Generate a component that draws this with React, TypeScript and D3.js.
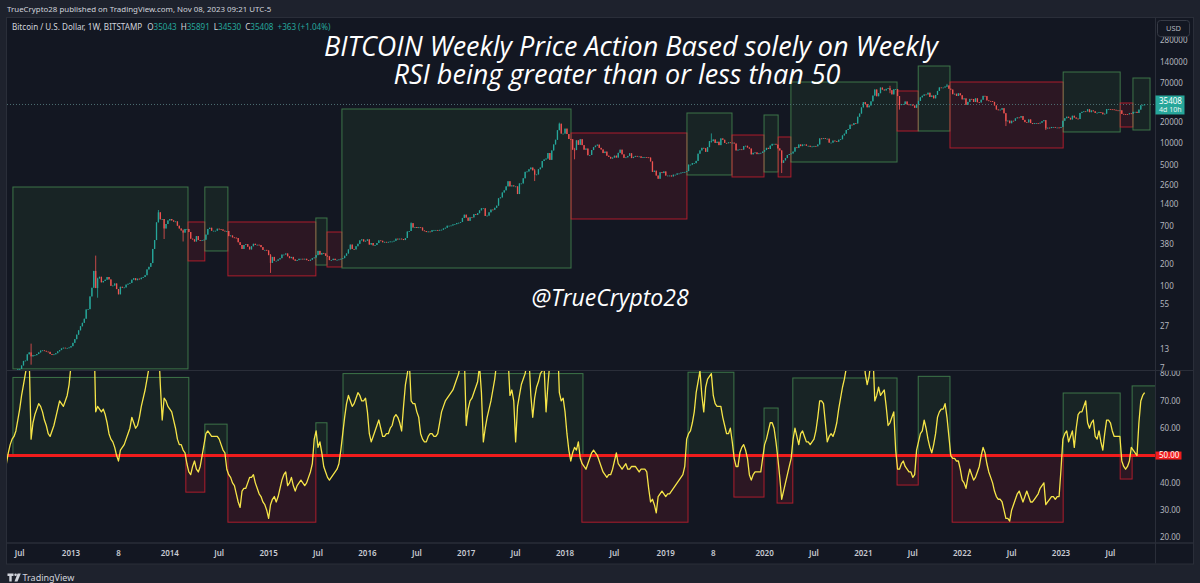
import * as d3 from 'd3';

// Weekly BTC/USD closes (Bitstamp), one value per Monday-start week, starting 2012-05-07
const FIRST_WEEK = '2012-05-07';
const FIRST_OPEN = 4.9;

const close2012 = [5.0, 5.1, 5.1, 5.2, 5.5, 5.9, 6.4, 6.7, 6.8, 7.6, 8.8, 8.9, 10.9, 11.6, 10.2, 10.6, 10.6, 11.0, 11.6, 12.3, 12.4, 12.2, 11.9, 11.8, 11.0, 10.7, 10.9, 11.3, 12.0, 12.5, 13.2, 13.5, 13.4, 13.4, 13.6];
const close2013 = [14.2, 15.8, 17.8, 20.6, 23.7, 27.0, 30.2, 34.5, 46.5, 47.0, 71.0, 94.0, 162, 93, 127, 134, 112, 117, 122, 133, 123, 100, 101, 108, 90, 76, 97, 94, 95, 104, 107, 110, 122, 128, 120, 126, 124, 130, 133, 141, 170, 185, 209, 330, 440, 780, 1080, 860, 870, 640, 740, 830];
const close2014 = [870, 830, 800, 805, 700, 640, 600, 560, 630, 630, 570, 460, 450, 420, 500, 440, 435, 440, 445, 525, 630, 655, 595, 595, 595, 635, 625, 620, 595, 585, 590, 500, 510, 480, 475, 470, 410, 375, 330, 375, 385, 355, 325, 360, 390, 375, 378, 375, 350, 320, 320, 315];
const close2015 = [270, 210, 255, 225, 225, 235, 245, 275, 275, 285, 260, 245, 255, 235, 225, 230, 240, 240, 237, 240, 230, 225, 233, 245, 250, 270, 310, 275, 290, 285, 265, 260, 230, 230, 240, 230, 232, 235, 240, 245, 265, 285, 325, 380, 330, 325, 360, 390, 435, 450, 420, 430];
const close2016 = [450, 380, 400, 370, 375, 400, 435, 430, 410, 415, 410, 415, 420, 420, 430, 460, 450, 460, 455, 440, 470, 580, 590, 760, 660, 670, 650, 665, 660, 600, 590, 570, 580, 575, 605, 610, 610, 600, 612, 615, 640, 655, 700, 700, 705, 730, 735, 765, 770, 790, 900, 1000];
const close2017 = [910, 820, 920, 915, 1015, 990, 1050, 1150, 1230, 1230, 960, 970, 1080, 1180, 1170, 1250, 1340, 1700, 1750, 2050, 2200, 2500, 2950, 2500, 2580, 2500, 2500, 1950, 2750, 2750, 3250, 4000, 4050, 4350, 4600, 4200, 3650, 3680, 4350, 4600, 5680, 5970, 6150, 7350, 5900, 8000, 9700, 11300, 15400, 19000, 13800, 13800];
const close2018 = [16200, 13600, 11600, 11500, 8200, 8100, 11100, 9600, 11500, 9500, 8200, 8500, 6850, 6900, 8100, 8900, 9350, 9650, 8700, 8250, 7350, 7700, 6750, 6500, 6150, 6350, 6750, 6350, 7400, 8200, 7050, 6300, 6400, 6700, 7300, 6250, 6500, 6700, 6600, 6600, 6300, 6450, 6450, 6400, 6350, 5600, 4000, 4150, 3550, 3200, 3950, 3850, 4050];
const close2019 = [3550, 3550, 3550, 3450, 3650, 3650, 3800, 3800, 3900, 3950, 3990, 4100, 5050, 5050, 5300, 5300, 5700, 7200, 8000, 8700, 8600, 7650, 8900, 10800, 10800, 11400, 10200, 10600, 9500, 11800, 11300, 10200, 10100, 10400, 10300, 10300, 10000, 8000, 8200, 8300, 8200, 9200, 9300, 8800, 8500, 7050, 7400, 7500, 7100, 7300, 7400, 7700];
const close2020 = [8100, 8700, 8400, 9350, 9900, 9900, 9650, 8550, 8000, 5350, 5800, 6250, 6900, 7100, 7250, 7700, 8850, 8700, 9700, 9200, 9700, 9700, 9300, 9300, 9000, 9100, 9250, 9150, 9700, 11800, 11600, 11900, 11650, 11700, 10300, 10300, 11000, 10800, 10600, 11300, 11500, 13000, 13750, 15500, 16000, 18400, 18200, 19350, 19150, 23800, 26400, 32200];
const close2021 = [38200, 36000, 32300, 34300, 39200, 47200, 57500, 46200, 51000, 61200, 57400, 55800, 58700, 60000, 56200, 49100, 57800, 58200, 46500, 34700, 35700, 35800, 39000, 35500, 34700, 35300, 34200, 31800, 35400, 39800, 44600, 47000, 49000, 48900, 51800, 45200, 47300, 43200, 48200, 54900, 61500, 61300, 61300, 63300, 65500, 59000, 57300, 49400, 50100, 46700, 50800, 47700];
const close2022 = [41800, 43100, 35000, 38500, 42400, 42200, 38400, 43200, 38100, 37800, 41300, 46800, 46400, 40400, 39700, 39500, 38500, 34300, 30100, 29500, 29900, 31400, 26600, 20600, 21000, 19300, 20900, 20800, 22600, 23300, 23200, 24300, 21500, 20000, 19800, 21800, 19400, 18800, 19300, 19400, 19200, 19600, 20600, 21300, 16300, 16700, 16500, 17100, 17100, 16800, 16800, 16600];
const close2023 = [17100, 20900, 22700, 23800, 23000, 21800, 24600, 23200, 22400, 22100, 26900, 27900, 28400, 28300, 30300, 27600, 29200, 28400, 26900, 27100, 27700, 27200, 25800, 26300, 30500, 30600, 30300, 30200, 29800, 29300, 29100, 29300, 26100, 26000, 25900, 25800, 26600, 26300, 27900, 27900, 26900, 30000, 34500, 35043, 35408];

// Weekly RSI(14), same weeks
const rsi2012 = [43, 47, 51, 54, 56, 57, 59, 63, 67, 72, 76, 80, 84, 86, 56, 62, 65, 67, 69, 68, 66, 63, 61, 58, 57, 59, 61, 64, 67, 70, 69, 68, 70, 72, 76];
const rsi2013 = [83, 85, 87, 89, 90, 91, 92, 93, 94, 93, 95, 96, 97, 66, 68, 67, 66, 67, 65, 62, 58, 56, 55, 53, 50, 48, 52, 53, 54, 56, 58, 60, 64, 62, 60, 61, 64, 68, 71, 74, 78, 82, 87, 91, 93, 95, 92, 76, 63, 71, 70, 68];
const rsi2014 = [67, 66, 63, 60, 56, 54, 54, 52, 51, 47, 44, 43, 46, 48, 45, 44, 46, 50, 54, 58, 59, 58, 57, 57, 57, 57, 56, 54, 52, 51, 45, 43, 42, 40, 39, 36, 33, 31, 37, 38, 38, 40, 42, 42, 43, 40, 38, 36, 35, 33, 32, 30];
const rsi2015 = [27, 32, 34, 35, 33, 35, 38, 41, 43, 44, 39, 40, 42, 39, 37, 39, 40, 41, 40, 39, 40, 42, 44, 47, 56, 59, 53, 55, 51, 46, 44, 42, 41, 42, 43, 44, 45, 47, 52, 58, 64, 69, 72, 70, 68, 69, 71, 73, 72, 70, 70, 71];
const rsi2016 = [66, 58, 55, 57, 59, 61, 63, 60, 57, 57, 58, 58, 60, 61, 64, 65, 64, 62, 59, 68, 76, 80, 85, 70, 69, 69, 66, 64, 58, 56, 55, 55, 57, 58, 58, 57, 57, 58, 62, 66, 68, 70, 71, 72, 73, 74, 76, 78, 80, 84, 87, 86];
const rsi2017 = [61, 67, 70, 71, 73, 75, 77, 83, 73, 55, 60, 64, 67, 70, 74, 78, 84, 87, 89, 90, 90, 88, 86, 72, 74, 70, 55, 68, 72, 76, 78, 80, 84, 86, 72, 64, 71, 75, 77, 80, 81, 82, 66, 76, 84, 87, 90, 92, 93, 73, 70, 71];
const rsi2018 = [66, 58, 52, 48, 51, 53, 52, 55, 49, 47, 46, 45, 47, 49, 51, 52, 51, 50, 48, 46, 44, 43, 42, 43, 43, 45, 48, 51, 47, 46, 45, 46, 47, 45, 45, 46, 46, 46, 45, 44, 45, 45, 45, 44, 38, 33, 34, 32, 29, 35, 36, 37, 36];
const rsi2019 = [35, 36, 36, 37, 38, 39, 40, 41, 42, 43, 46, 56, 58, 59, 62, 66, 73, 77, 81, 72, 66, 75, 78, 79, 80, 72, 69, 68, 68, 68, 64, 61, 58, 58, 60, 55, 49, 46, 46, 51, 53, 54, 52, 49, 43, 41, 43, 44, 44, 44, 44, 49];
const rsi2020 = [54, 56, 59, 62, 62, 60, 55, 49, 42, 34, 37, 40, 43, 46, 49, 56, 60, 57, 54, 58, 59, 57, 55, 55, 54, 55, 56, 59, 64, 70, 70, 69, 62, 55, 57, 58, 57, 59, 62, 67, 71, 75, 78, 82, 85, 87, 88, 89, 88, 90, 92, 94];
const rsi2021 = [90, 80, 76, 79, 85, 88, 70, 72, 75, 72, 73, 74, 68, 61, 62, 64, 66, 52, 45, 45, 47, 48, 46, 45, 44, 44, 42, 43, 52, 55, 58, 59, 63, 60, 56, 53, 51, 54, 58, 64, 66, 67, 67, 69, 64, 57, 50, 49, 49, 48, 48, 45];
const rsi2022 = [41, 40, 38, 42, 45, 43, 41, 42, 44, 46, 50, 53, 51, 47, 44, 42, 40, 37, 35, 34, 34, 33, 30, 27, 27, 26, 30, 32, 34, 36, 37, 35, 33, 35, 37, 35, 33, 33, 34, 35, 36, 38, 39, 40, 32, 33, 34, 35, 35, 34, 35, 35];
const rsi2023 = [45, 56, 58, 59, 55, 57, 59, 53, 60, 65, 66, 66, 68, 70, 62, 60, 62, 63, 57, 56, 59, 55, 52, 58, 63, 63, 62, 59, 57, 57, 57, 57, 48, 46, 45, 46, 48, 53, 52, 51, 50, 62, 70, 72, 73];

// Long wicks worth showing: [week, high, low]
const WICKS: [string, number, number][] = [
  ['2012-08-13', 15.4, 7.8],
  ['2013-04-08', 266, 105],
  ['2013-04-15', 130, 68],
  ['2013-11-25', 1163, 900],
  ['2013-12-16', 760, 455],
  ['2014-02-24', 620, 420],
  ['2015-01-12', 280, 152],
  ['2016-06-13', 780, 610],
  ['2017-09-11', 4400, 2970],
  ['2017-12-11', 19666, 16300],
  ['2018-02-05', 8700, 6000],
  ['2019-06-24', 13880, 10300],
  ['2020-03-09', 8000, 3850],
  ['2021-04-12', 64900, 51000],
  ['2021-05-17', 42400, 30000],
  ['2021-11-08', 69000, 62500],
  ['2022-06-13', 26900, 17600],
  ['2022-11-07', 21400, 15500],
  ['2023-11-06', 35891, 34530],
];

// Hand-drawn regime boxes on the price pane (price range in USD)
const PRICE_BOXES = [
  { from: '2012-06-07', to: '2014-03-14', low: 6.8, high: 2450, bull: true },
  { from: '2014-03-14', to: '2014-05-15', low: 224, high: 790, bull: false },
  { from: '2014-05-15', to: '2014-08-08', low: 309, high: 2450, bull: true },
  { from: '2014-08-08', to: '2015-06-28', low: 138, high: 790, bull: false },
  { from: '2015-06-28', to: '2015-08-08', low: 196, high: 899, bull: true },
  { from: '2015-08-08', to: '2015-10-02', low: 184, high: 571, bull: false },
  { from: '2015-10-02', to: '2018-01-23', low: 178, high: 30600, bull: true },
  { from: '2018-01-23', to: '2019-03-26', low: 870, high: 14070, bull: false },
  { from: '2019-03-26', to: '2019-09-08', low: 3615, high: 26870, bull: true },
  { from: '2019-09-08', to: '2020-01-04', low: 3390, high: 13180, bull: false },
  { from: '2020-01-04', to: '2020-02-25', low: 3985, high: 25200, bull: true },
  { from: '2020-02-25', to: '2020-04-12', low: 3390, high: 12370, bull: false },
  { from: '2020-04-12', to: '2021-05-08', low: 5500, high: 73300, bull: true },
  { from: '2021-05-08', to: '2021-07-25', low: 15000, high: 54800, bull: false },
  { from: '2021-07-25', to: '2021-11-19', low: 15000, high: 123000, bull: true },
  { from: '2021-11-19', to: '2023-01-10', low: 8660, high: 73300, bull: false },
  { from: '2023-01-10', to: '2023-08-08', low: 14540, high: 101300, bull: true },
  { from: '2023-08-08', to: '2023-09-24', low: 17080, high: 37150, bull: false },
  { from: '2023-09-24', to: '2023-11-26', low: 15500, high: 83400, bull: true },
];

// Same idea on the RSI pane: each box spans from 50 to `level`
const RSI_BOXES = [
  { from: '2012-06-07', to: '2014-03-17', level: 78.6, bull: true },
  { from: '2014-03-06', to: '2014-05-15', level: 36.6, bull: false },
  { from: '2014-05-15', to: '2014-08-05', level: 61.5, bull: true },
  { from: '2014-08-08', to: '2015-06-28', level: 25.6, bull: false },
  { from: '2015-06-28', to: '2015-08-08', level: 62, bull: true },
  { from: '2015-10-06', to: '2018-03-08', level: 80, bull: true },
  { from: '2018-03-04', to: '2019-03-30', level: 25.6, bull: false },
  { from: '2019-03-30', to: '2019-09-15', level: 80.5, bull: true },
  { from: '2019-09-15', to: '2020-01-04', level: 34.8, bull: false },
  { from: '2020-01-04', to: '2020-02-25', level: 67.4, bull: true },
  { from: '2020-02-21', to: '2020-04-19', level: 32.6, bull: false },
  { from: '2020-04-19', to: '2021-05-08', level: 78.4, bull: true },
  { from: '2021-05-08', to: '2021-07-25', level: 39.2, bull: false },
  { from: '2021-07-25', to: '2021-11-19', level: 79, bull: true },
  { from: '2021-11-27', to: '2023-01-10', level: 25.6, bull: false },
  { from: '2023-01-10', to: '2023-08-08', level: 72.9, bull: true },
  { from: '2023-08-08', to: '2023-09-21', level: 41.4, bull: false },
  { from: '2023-09-21', to: '2023-12-19', level: 75.5, bull: true },
];

const PRICE_TICKS = [280000, 140000, 70000, 20000, 10000, 5000, 2600, 1400, 700, 380, 200, 100, 55, 27, 13, 7];
const RSI_TICKS = [80, 70, 60, 40, 30, 20];
const TIME_TICKS: [string, string][] = [
  ['2012-07-01', 'Jul'], ['2013-01-01', '2013'], ['2013-07-01', '8'], ['2014-01-01', '2014'],
  ['2014-07-01', 'Jul'], ['2015-01-01', '2015'], ['2015-07-01', 'Jul'], ['2016-01-01', '2016'],
  ['2016-07-01', 'Jul'], ['2017-01-01', '2017'], ['2017-07-01', 'Jul'], ['2018-01-01', '2018'],
  ['2018-07-01', 'Jul'], ['2019-01-01', '2019'], ['2019-07-01', '8'], ['2020-01-01', '2020'],
  ['2020-07-01', 'Jul'], ['2021-01-01', '2021'], ['2021-07-01', 'Jul'], ['2022-01-01', '2022'],
  ['2022-07-01', 'Jul'], ['2023-01-01', '2023'], ['2023-07-01', 'Jul'],
];

const LAST = { open: 35043, high: 35891, low: 34530, close: 35408, change: 363, pct: 1.04 };

const closes = [...close2012, ...close2013, ...close2014, ...close2015, ...close2016, ...close2017, ...close2018, ...close2019, ...close2020, ...close2021, ...close2022, ...close2023];
const rsi = [...rsi2012, ...rsi2013, ...rsi2014, ...rsi2015, ...rsi2016, ...rsi2017, ...rsi2018, ...rsi2019, ...rsi2020, ...rsi2021, ...rsi2022, ...rsi2023];

const WEEK_MS = 7 * 864e5;
const parse = d3.utcParse('%Y-%m-%d');
const t0 = +parse(FIRST_WEEK)!;
const barOf = (s: string) => (+parse(s)! - t0) / WEEK_MS;

const BG_OUT = '#1e222d';
const BG = '#131722';
const LINE = '#2a2e39';
const TXT = '#b2b5be';
const UP = '#26a69a';
const DOWN = '#ef5350';
const FONT = "'Noto Sans', 'Liberation Sans', sans-serif";

const L = 7, R = 1193, TOP = 18, BOTTOM = 563.5;
const AXIS_X = 1155.5, SPLIT = 370.5, TIME_Y = 543;

export default function App() {
  const x = d3.scaleLinear().domain([barOf('2013-01-07'), barOf('2023-01-02')]).range([71, 1061]);
  const yP = d3.scaleLog().domain([7, 140000]).range([368, 62]);
  const yR = d3.scaleLinear().domain([20, 80]).range([537.5, 373.6]);

  const wickAt = new Map(WICKS.map(([d, h, l]) => [Math.round(barOf(d)), { h, l }]));
  const candles = closes.map((c, i) => {
    const o = i === 0 ? FIRST_OPEN : closes[i - 1];
    const w = wickAt.get(i);
    return {
      i, o, c,
      h: Math.max(o, c, w ? w.h : 0),
      l: Math.min(o, c, w ? w.l : Infinity),
    };
  });

  const rsiLine = d3.line<number>().x((_, i) => x(i)).y((v) => yR(v))(rsi) ?? '';
  const lastY = yP(LAST.close);

  return (
    <svg width={1200} height={583} style={{ position: 'absolute', left: 0, top: 0, display: 'block' }} fontFamily={FONT}>
      <defs>
        <clipPath id="pricePane"><rect x={L} y={TOP} width={AXIS_X - L} height={SPLIT - TOP} /></clipPath>
        <clipPath id="rsiPane"><rect x={L} y={SPLIT + 0.5} width={AXIS_X - L} height={TIME_Y - SPLIT - 1} /></clipPath>
        <clipPath id="priceScale"><rect x={AXIS_X} y={TOP} width={R - AXIS_X} height={SPLIT - TOP} /></clipPath>
        <clipPath id="rsiScale"><rect x={AXIS_X} y={SPLIT + 0.5} width={R - AXIS_X} height={TIME_Y - SPLIT - 1} /></clipPath>
      </defs>

      <rect width={1200} height={583} fill={BG_OUT} />
      <rect x={L - 0.5} y={TOP - 0.5} width={R - L + 1} height={BOTTOM - TOP + 1} fill={BG} stroke={LINE} />

      {/* price pane */}
      <g clipPath="url(#pricePane)">
        {PRICE_BOXES.map((b, k) => {
          const x0 = x(barOf(b.from)), x1 = x(barOf(b.to));
          return (
            <rect key={k} x={x0} y={yP(b.high)} width={x1 - x0} height={yP(b.low) - yP(b.high)}
              fill={b.bull ? 'rgba(76,175,80,0.09)' : 'rgba(200,25,45,0.14)'}
              stroke={b.bull ? 'rgba(86,170,96,0.62)' : 'rgba(226,32,48,0.72)'} strokeWidth={1} />
          );
        })}
        <line x1={L} x2={AXIS_X} y1={lastY} y2={lastY} stroke="#4e6f72" strokeDasharray="1 2" />
        {candles.map((d) => {
          const col = d.c >= d.o ? UP : DOWN;
          const cx = x(d.i);
          const top = yP(Math.max(d.o, d.c));
          const bot = yP(Math.min(d.o, d.c));
          return (
            <g key={d.i}>
              <line x1={cx} x2={cx} y1={yP(d.h)} y2={yP(d.l)} stroke={col} strokeWidth={0.8} />
              <rect x={cx - 0.65} y={top} width={1.3} height={Math.max(0.8, bot - top)} fill={col} />
            </g>
          );
        })}
      </g>

      {/* RSI pane */}
      <g clipPath="url(#rsiPane)">
        {RSI_BOXES.map((b, k) => {
          const x0 = x(barOf(b.from)), x1 = x(barOf(b.to));
          const y0 = yR(Math.max(50, b.level)), y1 = yR(Math.min(50, b.level));
          return (
            <rect key={k} x={x0} y={y0} width={x1 - x0} height={y1 - y0}
              fill={b.bull ? 'rgba(76,175,80,0.09)' : 'rgba(200,25,45,0.14)'}
              stroke={b.bull ? 'rgba(86,170,96,0.62)' : 'rgba(226,32,48,0.72)'} strokeWidth={1} />
          );
        })}
        <line x1={L} x2={AXIS_X} y1={yR(50)} y2={yR(50)} stroke="#f01c1c" strokeWidth={3} />
        <path d={rsiLine} fill="none" stroke="#f6e548" strokeWidth={1.3} strokeLinejoin="round" />
      </g>

      {/* pane borders */}
      <line x1={L} x2={R} y1={SPLIT} y2={SPLIT} stroke={LINE} />
      <line x1={L} x2={R} y1={TIME_Y} y2={TIME_Y} stroke={LINE} strokeWidth={1.5} />
      <line x1={AXIS_X} x2={AXIS_X} y1={TOP} y2={BOTTOM} stroke={LINE} />

      {/* right scales, each clipped to its own pane */}
      <g clipPath="url(#priceScale)">
        {PRICE_TICKS.map((v) => (
          <text key={v} x={1160} y={yP(v)} dy="0.35em" fontSize={8} fill={TXT}>{v}</text>
        ))}
      </g>
      <g clipPath="url(#rsiScale)">
        {RSI_TICKS.map((v) => (
          <text key={v} x={1160} y={yR(v)} dy="0.35em" fontSize={8} fill={TXT}>{v.toFixed(2)}</text>
        ))}
      </g>
      <rect x={1157.5} y={20.5} width={32} height={16} rx={3} fill={BG} stroke="#363a45" />
      <text x={1173.5} y={28.5} dy="0.35em" textAnchor="middle" fontSize={7.5} fill={TXT}>USD</text>

      <rect x={AXIS_X} y={lastY - 9} width={29} height={19} fill={UP} />
      <text x={AXIS_X + 3.5} y={lastY - 0.5} fontSize={8} fill="#ffffff">{LAST.close}</text>
      <text x={AXIS_X + 3.5} y={lastY + 8} fontSize={7} fill="#e6f5f3">4d 10h</text>

      <rect x={AXIS_X} y={yR(50) - 4} width={26} height={8} fill="#f01c1c" />
      <text x={AXIS_X + 3.5} y={yR(50)} dy="0.35em" fontSize={8} fill="#ffffff">{(50).toFixed(2)}</text>

      {/* time axis */}
      {TIME_TICKS.map(([d, label]) => (
        <text key={d} x={x(Math.ceil(barOf(d)))} y={553} dy="0.35em" textAnchor="middle" fontSize={8} fontWeight={600} fill="#c8cbd3">{label}</text>
      ))}

      {/* header */}
      <text x={7} y={12} fontSize={7.9} fill="#d1d4dc">TrueCrypto28 published on TradingView.com, Nov 08, 2023 09:21 UTC-5</text>
      <text x={12} y={29.5} fontSize={8.1} fill="#d1d4dc">
        <tspan>Bitcoin / U.S. Dollar, 1W, BITSTAMP</tspan>
        <tspan dx={5}>O</tspan><tspan fill={UP}>{LAST.open}</tspan>
        <tspan dx={4}>H</tspan><tspan fill={UP}>{LAST.high}</tspan>
        <tspan dx={4}>L</tspan><tspan fill={UP}>{LAST.low}</tspan>
        <tspan dx={4}>C</tspan><tspan fill={UP}>{LAST.close}</tspan>
        <tspan dx={4} fill={UP}>{`+${LAST.change} (+${LAST.pct.toFixed(2)}%)`}</tspan>
      </text>

      {/* annotations */}
      <g fontFamily="'Open Sans', 'Noto Sans', sans-serif" fontStyle="italic" fill="#ffffff">
        <text x={631} y={56} textAnchor="middle" fontSize={27}>BITCOIN Weekly Price Action Based solely on Weekly</text>
        <text x={617} y={84} textAnchor="middle" fontSize={27}>RSI being greater than or less than 50</text>
        <text x={610} y={306} textAnchor="middle" fontSize={23}>@TrueCrypto28</text>
      </g>

      {/* footer logo */}
      <g fill="#d1d4dc">
        <path d="M7.5 573.5h6v2.4h-1.8v5.6h-2.4v-5.6h-1.8z" />
        <circle cx={15.6} cy={574.7} r={1.3} />
        <path d="M17.6 573.5h3.2l-3.3 8h-3z" />
        <text x={22.5} y={581} fontSize={9}>TradingView</text>
      </g>
    </svg>
  );
}
